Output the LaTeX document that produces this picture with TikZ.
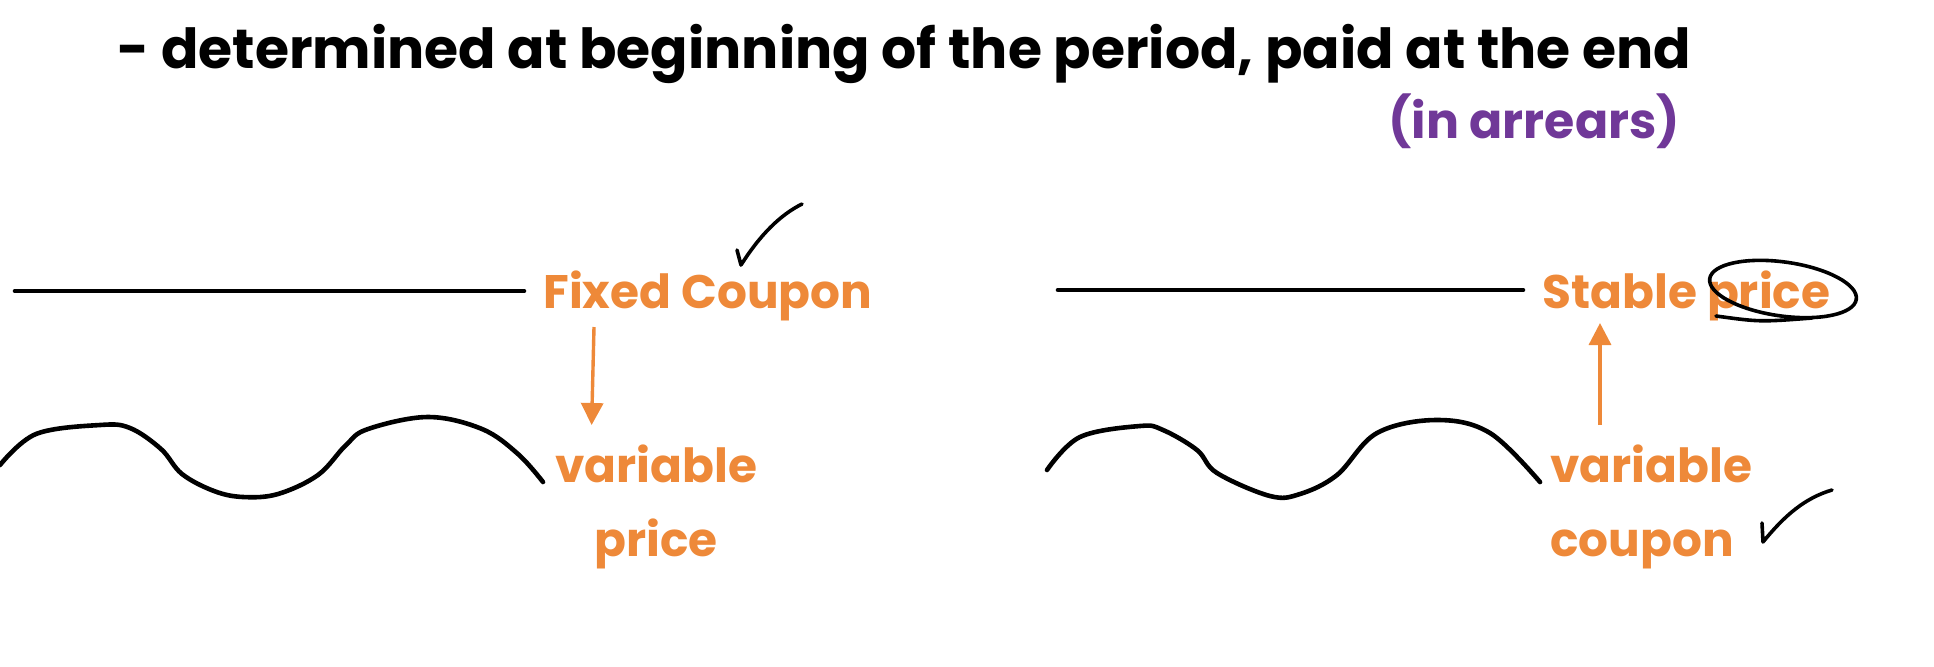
\documentclass[tikz,border=0pt]{standalone}
\usepackage{fontspec}
\setmainfont{Poppins}
\usepackage{tikz}
\usetikzlibrary{arrows.meta,calc}
\definecolor{coupon orange}{RGB}{238,137,57}
\definecolor{arrears purple}{RGB}{112,56,152}
\tikzstyle{heading}=[inner sep=0pt, font=\bfseries\fontsize{27.6}{36}\selectfont, text=black]
\tikzstyle{note}=[inner sep=0pt, font=\bfseries\fontsize{23.5}{37}\selectfont, text=coupon orange]
\tikzstyle{aside}=[inner sep=0pt, font=\bfseries\fontsize{24.5}{30}\selectfont, text=arrears purple]
\tikzstyle{edge} = [draw, line width=2.3pt, line cap=round, line join=round]
\tikzstyle{cause} = [draw=coupon orange, line width=1.7pt, -{Triangle[width=11pt,length=11pt]}]
\tikzstyle{tick} = [draw, line width=1.8pt, line cap=round, line join=round]

\begin{document}
\begin{tikzpicture}[x=0.5pt, y=-0.5pt]
	\useasboundingbox (0,0) rectangle (1934,666);
	% First we put the texts
	\node[heading, anchor=base west] (title) at (117,68) {- determined at beginning of the period, paid at the end};
	\node[aside, anchor=base west] (arrears) at (1388,138) {(in arrears)};

	\foreach \pos/\label/\name in {
		{(543,308)/fixed/Fixed Coupon},
		{(1542,308)/stable/Stable price}}
	\node[note, anchor=base west] (\label) at \pos {\name};

	\node[note, anchor=north, align=center] (varprice) at (656,444) {variable\\price};
	\node[note, anchor=north west, align=left] (varcoupon) at (1550,444) {variable\\coupon};

	% Flat lines and wavy lines
	\coordinate (flatL) at (15,291);
	\coordinate (flatR) at (1058,290);
	\path[edge] (flatL) -- ($(fixed.base west)+(-19,-17)$);
	\path[edge] (flatR) -- ($(stable.base west)+(-19,-18)$);

	\draw[edge] plot[smooth, tension=0.6] coordinates {
		(0,465) (36,434) (100,425) (130,428) (161,449) (182,474) (214,491)
		(243,497) (278,494) (318,475) (346,445) (368,429) (428,417)
		(482,429) (518,454) (543,482)};
	\draw[edge] plot[smooth, tension=0.6] coordinates {
		(1047,470) (1080,437) (1140,426) (1163,430) (1197,450) (1217,473)
		(1270,496) (1300,494) (1337,475) (1377,433) (1437,420)
		(1490,433) (1540,482)};

	% Connect the texts with arrows
	\path[cause] ($(fixed.base west)+(51,19)$) -- ($(varprice.north west)+(37,-19)$);
	\path[cause] ($(varcoupon.north west)+(50,-19)$) -- ($(stable.base west)+(58,15)$);

	% Ticks and the ring round price
	\path[tick] (737,250) -- (741,265) .. controls (760,235) and (780,215) .. (802,204);
	\path[tick] (1762,523) -- (1763,542) .. controls (1785,515) and (1805,498) .. (1832,490);
	\path[tick, rotate around={-8:(1783,289)}] (1783,289) ellipse (74 and 27);
	\path[tick] (1716,316) .. controls (1760,322) .. (1812,318);
\end{tikzpicture}
\end{document}
